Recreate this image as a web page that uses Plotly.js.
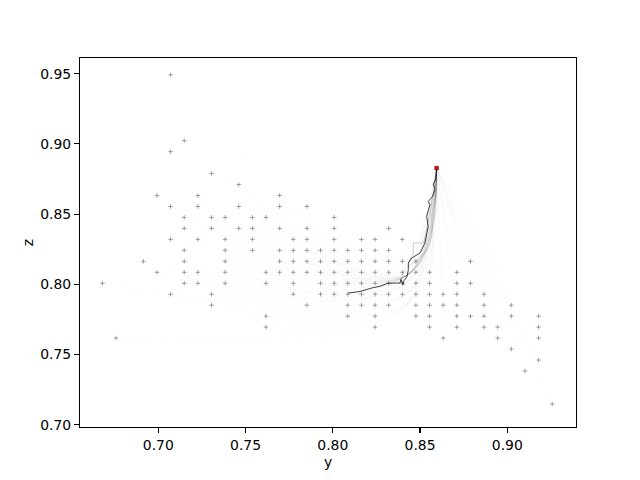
<!DOCTYPE html>
<html>
<head>
<meta charset="utf-8">
<script src="https://cdn.plot.ly/plotly-3.0.1.min.js"></script>
<style>html,body{margin:0;padding:0;background:#fff;}#chart{width:640px;height:480px;}</style>
</head>
<body>
<div id="chart"></div>
<script>
// Start points, grouped by row (z value) with the y values in that row
const rowZ = [0.94922, 0.90234, 0.89453, 0.87891, 0.87109, 0.86328, 0.85547, 0.84766, 0.83984, 0.83203,
              0.82422, 0.81641, 0.80859, 0.80078, 0.79297, 0.78516, 0.77734, 0.76953, 0.76172, 0.75391,
              0.74609, 0.73828, 0.71484];
const rowY = [
  [0.70703],
  [0.71484],
  [0.70703],
  [0.73047],
  [0.74609],
  [0.69922, 0.72266, 0.76953],
  [0.70703, 0.72266, 0.74609, 0.76953, 0.78516],
  [0.71484, 0.73047, 0.73828, 0.75391, 0.76172, 0.80078],
  [0.71484, 0.73047, 0.74609, 0.75391, 0.76953, 0.78516, 0.80078, 0.83203],
  [0.70703, 0.72266, 0.73828, 0.75391, 0.77734, 0.78516, 0.80078, 0.81641, 0.82422, 0.83984],
  [0.71484, 0.73828, 0.75391, 0.76953, 0.77734, 0.78516, 0.79297, 0.80078, 0.80859, 0.81641, 0.82422, 0.83203],
  [0.69141, 0.71484, 0.73828, 0.76953, 0.77734, 0.78516, 0.79297, 0.80078, 0.80859, 0.81641, 0.82422, 0.83203, 0.83984, 0.84766, 0.87891],
  [0.69922, 0.71484, 0.72266, 0.73828, 0.76172, 0.76953, 0.77734, 0.78516, 0.79297, 0.80078, 0.80859, 0.81641, 0.82422, 0.83203, 0.83984, 0.84766, 0.85547, 0.87109],
  [0.66797, 0.71484, 0.72266, 0.73828, 0.76172, 0.77734, 0.79297, 0.80078, 0.80859, 0.81641, 0.82422, 0.83203, 0.83984, 0.84766, 0.85547, 0.87109, 0.87891],
  [0.70703, 0.73047, 0.77734, 0.79297, 0.80078, 0.80859, 0.81641, 0.82422, 0.83203, 0.83984, 0.84766, 0.85547, 0.86328, 0.87109, 0.88672],
  [0.73047, 0.78516, 0.80859, 0.81641, 0.82422, 0.83203, 0.84766, 0.85547, 0.86328, 0.87109, 0.88672, 0.90234],
  [0.76172, 0.80859, 0.82422, 0.84766, 0.85547, 0.87109, 0.87891, 0.88672, 0.90234, 0.91797],
  [0.76172, 0.82422, 0.85547, 0.87109, 0.88672, 0.89453, 0.91797],
  [0.67578, 0.86328, 0.89453, 0.91797],
  [0.90234],
  [0.91797],
  [0.91016],
  [0.92578]
];

// Target point
const targetY = [0.8595];
const targetZ = [0.8828];

// Where the faint trajectories from the left turn upward
const turnY = 0.842;
const turnZLow = 0.785;
const turnZHigh = 0.806;

// Main (dark) trajectory
const mainY = [0.8089, 0.8156, 0.8223, 0.8270, 0.8318, 0.8385, 0.8391, 0.8402, 0.8408, 0.8425, 0.8433, 0.8433,
               0.8452, 0.8500, 0.8528, 0.8540, 0.8547, 0.8538, 0.8557, 0.8547, 0.8572, 0.8586, 0.8576, 0.8590, 0.8595];
const mainZ = [0.7938, 0.7949, 0.7974, 0.7986, 0.8009, 0.8009, 0.8036, 0.7997, 0.8026, 0.8054, 0.8104, 0.8152,
               0.8187, 0.8223, 0.8294, 0.8360, 0.8412, 0.8484, 0.8567, 0.8590, 0.8626, 0.8674, 0.8714, 0.8750, 0.8828];

// Medium-grey trajectories near the main one
const grey1Y = [0.8433, 0.8445, 0.8461, 0.8461, 0.8522, 0.8530, 0.8545, 0.8560, 0.8580, 0.8595];
const grey1Z = [0.8152, 0.8185, 0.8211, 0.8294, 0.8294, 0.8340, 0.8420, 0.8530, 0.8680, 0.8828];
const grey2Y = [0.8385, 0.8414, 0.8471, 0.8540, 0.8568, 0.8568, 0.8591, 0.8595];
const grey2Z = [0.8009, 0.8104, 0.8161, 0.8246, 0.8353, 0.8496, 0.8638, 0.8828];

const startY = [], startZ = [];
rowY.forEach((ys, i) => ys.forEach(y => { startY.push(y); startZ.push(rowZ[i]); }));

const traces = [];
for (let i = 0; i < startY.length; i++) {
  const xs = [startY[i]], ys = [startZ[i]];
  if (startY[i] < 0.845) {
    xs.push(turnY);
    ys.push(Math.min(Math.max(startZ[i], turnZLow), turnZHigh));
  }
  xs.push(targetY[0]); ys.push(targetZ[0]);
  traces.push({
    type: 'scatter', mode: 'lines', hoverinfo: 'skip', x: xs, y: ys,
    line: {color: 'rgba(0,0,0,0.024)', width: 0.6, shape: 'spline', smoothing: 1.2}
  });
}
traces.push({type:'scatter', mode:'lines', x: grey1Y, y: grey1Z, line:{color:'rgba(0,0,0,0.3)', width:0.7}, hoverinfo:'skip'});
traces.push({type:'scatter', mode:'lines', x: grey2Y, y: grey2Z, line:{color:'rgba(0,0,0,0.22)', width:0.7, shape:'spline'}, hoverinfo:'skip'});
traces.push({type:'scatter', mode:'lines', x: mainY, y: mainZ, line:{color:'#111', width:0.8}, hoverinfo:'skip'});
traces.push({
  type:'scatter', mode:'markers', x: startY, y: startZ, hoverinfo:'skip',
  marker:{symbol:'cross-thin', size:3.4, line:{width:0.8, color:'rgba(0,0,0,0.42)'}}
});
traces.push({
  type:'scatter', mode:'markers', x: targetY, y: targetZ, hoverinfo:'skip',
  marker:{symbol:'square', size:3.5, color:'red', line:{width:0.6, color:'#300'}}
});

const tickVX = [0.70, 0.75, 0.80, 0.85, 0.90];
const tickTX = ['0.70', '0.75', '0.80', '0.85', '0.90'];
const tickVZ = [0.70, 0.75, 0.80, 0.85, 0.90, 0.95];
const tickTZ = ['0.70', '0.75', '0.80', '0.85', '0.90', '0.95'];

const axisBase = {
  showgrid:false, zeroline:false, showline:true, mirror:true, linecolor:'black', linewidth:1.1,
  ticks:'outside', ticklen:4.9, tickwidth:1.1, tickcolor:'black',
  tickfont:{family:'DejaVu Sans', size:13.9, color:'black'}
};
const layout = {
  width:640, height:480,
  margin:{l:80, r:64, t:57.6, b:52.8, pad:0},
  paper_bgcolor:'white', plot_bgcolor:'white', showlegend:false,
  font:{family:'DejaVu Sans', size:13.9, color:'black'},
  xaxis: Object.assign({}, axisBase, {range:[0.6551, 0.9394], tickvals:tickVX, ticktext:tickTX,
    title:{text:'y', font:{family:'DejaVu Sans', size:13.9, color:'black'}, standoff:5}}),
  yaxis: Object.assign({}, axisBase, {range:[0.6984, 0.9612], tickvals:tickVZ, ticktext:tickTZ,
    title:{text:'z', font:{family:'DejaVu Sans', size:13.9, color:'black'}, standoff:3}})
};
Plotly.newPlot('chart', traces, layout, {staticPlot:true, displayModeBar:false});
</script>
</body>
</html>
